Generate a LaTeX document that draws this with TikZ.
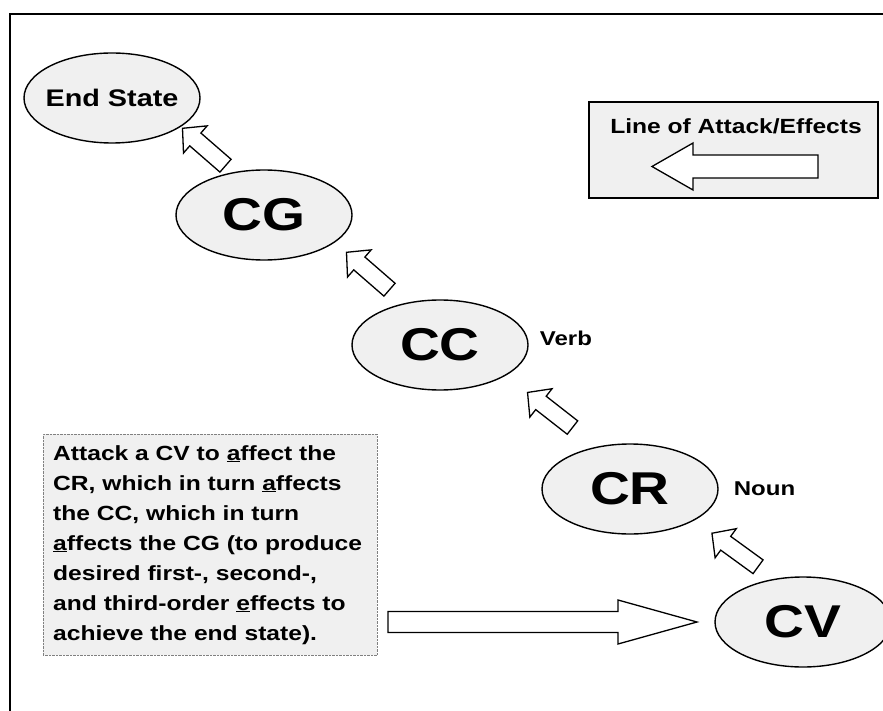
\documentclass[tikz,border=0pt]{standalone}
\usepackage{fontspec}
\setmainfont{Liberation Sans}[FakeStretch=1.2]
\usepackage{tikz}
\usetikzlibrary{shapes.geometric,positioning}

% hollow block arrow: centre, angle, length, head length, shaft half width, head half width
\newcommand{\blockarrow}[6]{%
  \begin{scope}[shift={#1},rotate=#2]
    \draw[black,line width=1.3pt,fill=white,line join=miter]
      (-#3/2,-#5) -- (#3/2-#4,-#5) -- (#3/2-#4,-#6) -- (#3/2,0)
      -- (#3/2-#4,#6) -- (#3/2-#4,#5) -- (-#3/2,#5) -- cycle;
  \end{scope}}

\begin{document}
\begin{tikzpicture}[x=1pt,y=-1pt,node distance=9pt]
  \tikzstyle{COGnode}=[ellipse,draw=black,line width=1.4pt,fill=gray!12,inner sep=0pt,minimum width=176pt,minimum height=90pt]
  \tikzstyle{COGbig}=[font=\fontsize{46}{48}\selectfont\bfseries]
  \tikzstyle{sidelabel}=[font=\fontsize{20}{22}\selectfont\bfseries,inner sep=0pt]
  \useasboundingbox (0,0) rectangle (883,711);

  % frame
  \draw[line width=2pt] (10,711) -- (10,14) -- (883,14);

  % centres of gravity chain
  \node[COGnode, inner xsep=-12pt] (es) at (112,98) {\fontsize{24}{26}\selectfont\bfseries End State};
  \node[COGnode, COGbig] (cg) at (264,215) {CG};
  \node[COGnode, COGbig] (cc) at (440,345) {CC};
  \node[COGnode, COGbig] (cr) at (630,489) {CR};
  \node[COGnode, COGbig] (cv) at (803,622) {CV};

  \node[sidelabel, right=11pt of cc, yshift=7pt] (verb) {Verb};
  \node[sidelabel, right=15pt of cr] (noun) {Noun};

  % effects arrows
  \blockarrow{(204,147)}{139}{57}{17}{8.5}{18}
  \blockarrow{(368,271)}{139}{57}{17}{8.5}{18}
  \blockarrow{(550,410)}{142}{57}{17}{8.5}{18}
  \blockarrow{(735,550)}{144}{57}{17}{8.5}{18}

  % legend
  \node[draw=black, line width=1.5pt, fill=gray!12, minimum width=289pt, minimum height=96pt] (legend) at (733.5,150) {};
  \node[font=\fontsize{20.5}{23}\selectfont\bfseries, inner sep=0pt] (legendtext) at (736,126) {Line of Attack/Effects};
  \blockarrow{(735,166.5)}{180}{166}{41}{11.5}{23.5}

  % explanation
  \node[anchor=north west, draw=gray, densely dotted, fill=gray!12, text width=314pt, inner xsep=10pt, inner ysep=0pt, minimum height=221pt, align=left, font=\fontsize{20.5}{30}\selectfont\bfseries] (note) at (43,434)
    {Attack a CV to \underline{a}ffect the\\
     CR, which in turn \underline{a}ffects\\
     the CC, which in turn\\
     \underline{a}ffects the CG (to produce\\
     desired first-, second-,\\
     and third-order \underline{e}ffects to\\
     achieve the end state).};
  \blockarrow{(542.5,622)}{0}{309}{79}{10.5}{22}

\end{tikzpicture}
\end{document}
